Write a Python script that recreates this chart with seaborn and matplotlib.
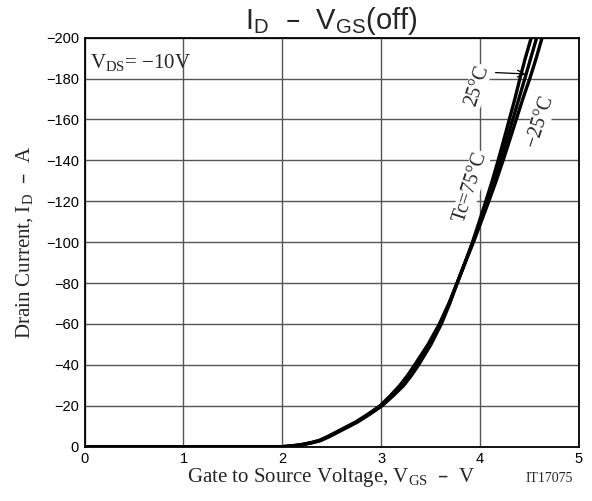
import numpy as np
import pandas as pd
import seaborn as sns
import matplotlib
matplotlib.use("Agg")
import matplotlib.pyplot as plt

# drain current levels (A) and the gate voltage where each curve reaches them
id_levels = [0, 0, -0.4, -1, -2, -3, -5, -7, -9.5, -12, -16, -20, -25, -30, -35, -40,
             -50, -60, -70, -80, -90, -100, -110, -120, -130, -140, -150, -160, -170,
             -180, -190, -200, -210]
vgs_75 = [0, 2.0, 2.11, 2.21, 2.31, 2.39, 2.48, 2.56, 2.66, 2.76, 2.89, 3.01, 3.125,
          3.23, 3.31, 3.38, 3.505, 3.61, 3.695, 3.77, 3.85, 3.925, 3.993, 4.06, 4.125,
          4.185, 4.242, 4.298, 4.354, 4.405, 4.46, 4.52, 4.575]
vgs_25 = [0, 2.0, 2.10, 2.20, 2.30, 2.38, 2.47, 2.55, 2.65, 2.75, 2.88, 3.00, 3.11,
          3.21, 3.29, 3.36, 3.49, 3.60, 3.69, 3.77, 3.85, 3.93, 4.003, 4.075, 4.145,
          4.21, 4.272, 4.333, 4.394, 4.455, 4.515, 4.575, 4.635]
vgs_m25 = [0, 2.0, 2.09, 2.19, 2.29, 2.37, 2.46, 2.54, 2.64, 2.74, 2.87, 2.99, 3.095,
           3.19, 3.27, 3.34, 3.475, 3.59, 3.685, 3.77, 3.85, 3.935, 4.013, 4.09, 4.165,
           4.235, 4.302, 4.368, 4.434, 4.505, 4.57, 4.63, 4.695]

x_ticks = [0, 1, 2, 3, 4, 5]
y_ticks = [0, -20, -40, -60, -80, -100, -120, -140, -160, -180, -200]

df = pd.concat([
    pd.DataFrame({"Vgs": vgs_75, "Id": id_levels, "Tc": "75"}),
    pd.DataFrame({"Vgs": vgs_25, "Id": id_levels, "Tc": "25"}),
    pd.DataFrame({"Vgs": vgs_m25, "Id": id_levels, "Tc": "-25"}),
])

sns.set_theme(style="white")
plt.rcParams["font.family"] = ["Liberation Sans", "DejaVu Sans"]
plt.rcParams["axes.unicode_minus"] = True

SERIF = ["Liberation Serif", "DejaVu Serif"]

fig = plt.figure(figsize=(5.92, 5.01), dpi=100)
ax = fig.add_axes([0.143, 0.1084, 0.8345, 0.8164])

for tc in ["75", "25", "-25"]:
    sub = df[df["Tc"] == tc]
    sns.lineplot(data=sub, x="Vgs", y="Id", ax=ax, color="black", lw=2.4,
                 sort=False, estimator=None, legend=False, zorder=3)

ax.set_xlim(0, 5)
ax.set_ylim(0, -200)
ax.set_xticks(x_ticks)
ax.set_yticks(y_ticks)
ax.tick_params(length=0, labelsize=10.5, pad=4, colors="black")
ax.grid(True, color="#555555", lw=1.0)
for s in ax.spines.values():
    s.set_color("black")
    s.set_linewidth(1.3)
ax.set_xlabel("")
ax.set_ylabel("Drain Current, I$\\mathregular{_D}$  \u2013  A", family=SERIF,
              fontsize=15)
ax.yaxis.set_label_coords(-0.10, 0.5)

fig.text(0.56, 0.943, "I$\\mathregular{_D}$  \u2013  V$\\mathregular{_{GS}}$(off)",
         ha="center", va="baseline", fontsize=21)
fig.text(0.56, 0.038, "Gate to Source Voltage, V$\\mathregular{_{GS}}$  \u2013  V",
         ha="center", va="baseline", family=SERIF, fontsize=15)
fig.text(0.928, 0.038, "IT17075", ha="center", va="baseline", family=SERIF, fontsize=10)

ax.text(0.05, -188, "V$\\mathregular{_{DS}}$= \u221210V", family=SERIF, fontsize=15,
        ha="left", va="center")

box = dict(facecolor="white", edgecolor="none", pad=0.5)
ax.text(3.97, -176.6, "25\u00b0C", family=SERIF, fontsize=14.5, rotation=72,
        ha="center", va="center", bbox=box, zorder=4)
ax.text(4.61, -158.9, "\u221225\u00b0C", family=SERIF, fontsize=14.5, rotation=72,
        ha="center", va="center", bbox=box, zorder=4)
ax.text(3.91, -127.1, "Tc=75\u00b0C", family=SERIF, fontsize=14.5, rotation=72,
        ha="center", va="center", bbox=box, zorder=4)
ax.annotate("", xy=(4.49, -182.2), xytext=(4.13, -183.0),
            arrowprops=dict(arrowstyle="->", color="black", lw=0.9), zorder=4)

fig.savefig("out.png", dpi=100)
